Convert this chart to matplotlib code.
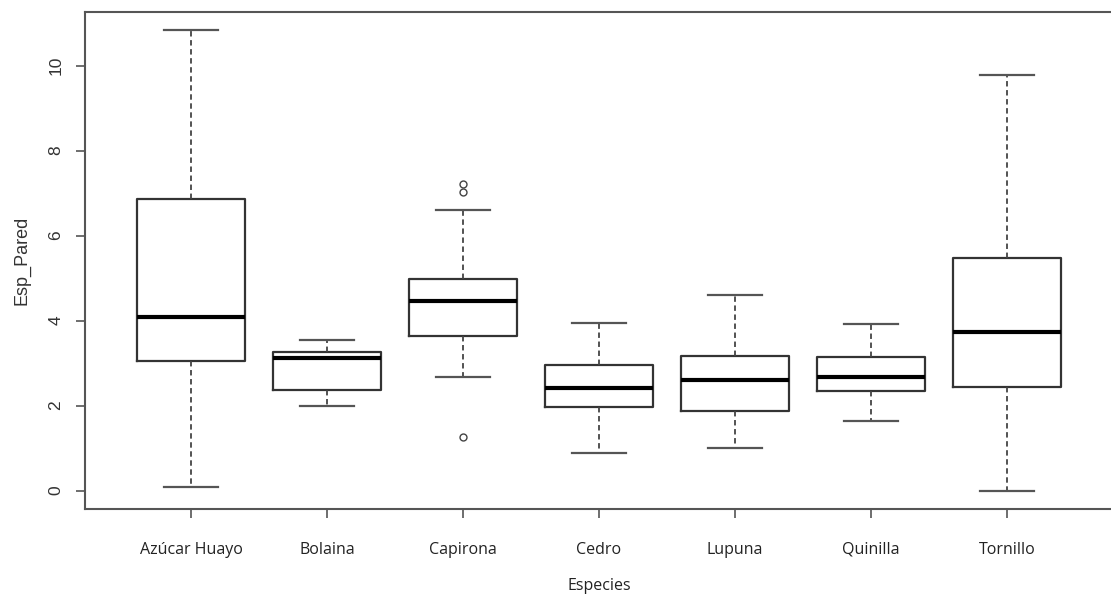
import matplotlib
matplotlib.use("Agg")
import matplotlib.pyplot as plt

# boxplot summaries (Esp_Pared by species)
especies = ["Azúcar Huayo", "Bolaina", "Capirona", "Cedro", "Lupuna", "Quinilla", "Tornillo"]
whislo = [0.08, 2.00, 2.68, 0.88, 1.00, 1.64, 0.00]
q1 = [3.04, 2.37, 3.63, 1.96, 1.88, 2.34, 2.44]
med = [4.09, 3.13, 4.45, 2.42, 2.60, 2.67, 3.73]
q3 = [6.86, 3.27, 4.97, 2.95, 3.17, 3.15, 5.48]
whishi = [10.83, 3.54, 6.61, 3.95, 4.60, 3.93, 9.78]
fliers = [[], [], [7.22, 7.02, 1.26], [], [], [], []]

stats = []
for i in range(len(especies)):
    stats.append(dict(label=especies[i], whislo=whislo[i], q1=q1[i], med=med[i],
                      q3=q3[i], whishi=whishi[i], fliers=fliers[i]))

fig = plt.figure(figsize=(11.11, 5.95), dpi=100)
ax = fig.add_axes([85 / 1111, 86 / 595, 1028 / 1111, 497 / 595])

pos = list(range(1, len(especies) + 1))
ax.bxp(stats, positions=pos, widths=0.8, capwidths=0.4,
       boxprops=dict(color="#333333", linewidth=1.6),
       medianprops=dict(color="black", linewidth=3),
       whiskerprops=dict(color="#444444", linewidth=1.3, linestyle=(0, (3, 2))),
       capprops=dict(color="#555555", linewidth=1.6),
       flierprops=dict(marker="o", markersize=5, markerfacecolor="none",
                       markeredgecolor="#444444", markeredgewidth=1.0))

ax.set_xlim(0.22, 7.78)
ax.set_ylim(-0.433, 11.26)
ax.set_yticks([0, 2, 4, 6, 8, 10])
ax.set_xticks(pos)
ax.set_xticklabels(especies, family="Open Sans", fontsize=11.5, color="#222222")
for t in ax.get_yticklabels():
    t.set_rotation(90)
    t.set_va("center")
    t.set_family("Liberation Sans")
    t.set_fontsize(12.5)
    t.set_color("#333333")

ax.tick_params(axis="both", direction="out", length=6.5, width=1.2, color="#555555")
ax.tick_params(axis="x", pad=17)
ax.tick_params(axis="y", pad=9)

for s in ax.spines.values():
    s.set_color("#555555")
    s.set_linewidth(1.5)

ax.set_xlabel("Especies", family="Open Sans", fontsize=11.5, color="#222222", labelpad=15)
ax.set_ylabel("Esp_Pared", family="Liberation Sans", fontsize=13, color="#333333", labelpad=13)

fig.savefig("out.png", dpi=100)
